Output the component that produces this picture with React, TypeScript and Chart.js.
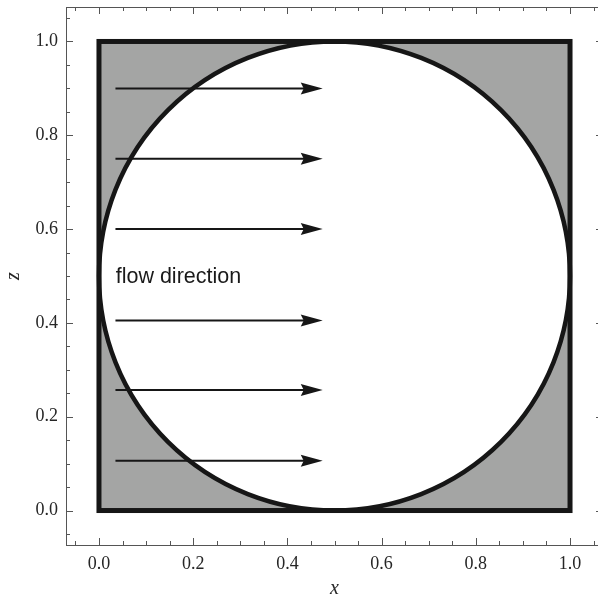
import { useEffect, useRef } from "react";
import { Chart, registerables } from "chart.js";

Chart.register(...registerables);

// Axis ranges (data units)
const xRange = [-0.07, 1.07];
const yRange = [-0.0735, 1.0735];

// Tick values and labels
const majorTicks = [0, 0.2, 0.4, 0.6, 0.8, 1.0];
const majorTickLabels = ["0.0", "0.2", "0.4", "0.6", "0.8", "1.0"];
const minorTicks = [
  -0.05, 0.05, 0.1, 0.15, 0.25, 0.3, 0.35, 0.45, 0.5, 0.55, 0.65, 0.7, 0.75,
  0.85, 0.9, 0.95, 1.05,
];

// Geometry (data units)
const squareX = [0, 1];
const squareY = [0, 1];
const circleCenter = [0.5, 0.5];
const circleRadius = [0.5];

// Flow arrows
const arrowY = [0.9, 0.75, 0.6, 0.405, 0.257, 0.106];
const arrowStartX = [0.035];
const arrowShaftEndX = [0.44];
const arrowTipX = [0.475];

// Annotation
const annotationText = ["flow direction"];
const annotationPos = [0.0355, 0.486];

const DARK = "#161616";

const shapesPlugin = {
  id: "shapes",
  beforeDatasetsDraw(chart: any) {
    const { ctx } = chart;
    const xs = chart.scales.x;
    const ys = chart.scales.y;
    const x0 = xs.getPixelForValue(squareX[0]);
    const x1 = xs.getPixelForValue(squareX[1]);
    const y0 = ys.getPixelForValue(squareY[0]);
    const y1 = ys.getPixelForValue(squareY[1]);
    ctx.save();
    ctx.fillStyle = "#a4a5a4";
    ctx.fillRect(x0, y1, x1 - x0, y0 - y1);

    const cx = xs.getPixelForValue(circleCenter[0]);
    const cy = ys.getPixelForValue(circleCenter[1]);
    const rx = Math.abs(xs.getPixelForValue(circleCenter[0] + circleRadius[0]) - cx);
    const ry = Math.abs(ys.getPixelForValue(circleCenter[1] + circleRadius[0]) - cy);
    ctx.beginPath();
    ctx.ellipse(cx, cy, rx, ry, 0, 0, Math.PI * 2);
    ctx.fillStyle = "#ffffff";
    ctx.fill();
    ctx.lineWidth = 4.5;
    ctx.strokeStyle = DARK;
    ctx.stroke();

    ctx.lineWidth = 5;
    ctx.strokeStyle = DARK;
    ctx.lineJoin = "miter";
    ctx.strokeRect(x0, y1, x1 - x0, y0 - y1);

    ctx.font = '21.5px "Liberation Sans", Arial, sans-serif';
    ctx.fillStyle = "#1a1a1a";
    ctx.textBaseline = "alphabetic";
    ctx.textAlign = "left";
    ctx.fillText(
      annotationText[0],
      xs.getPixelForValue(annotationPos[0]),
      ys.getPixelForValue(annotationPos[1])
    );
    ctx.restore();
  },
  afterDatasetsDraw(chart: any) {
    const { ctx } = chart;
    const xs = chart.scales.x;
    const ys = chart.scales.y;
    ctx.save();
    ctx.fillStyle = DARK;
    arrowY.forEach((v) => {
      const tip = xs.getPixelForValue(arrowTipX[0]);
      const py = ys.getPixelForValue(v);
      ctx.beginPath();
      ctx.moveTo(tip, py);
      ctx.lineTo(tip - 22, py - 6);
      ctx.lineTo(tip - 19, py);
      ctx.lineTo(tip - 22, py + 6);
      ctx.closePath();
      ctx.fill();
    });
    ctx.restore();
  },
  afterDraw(chart: any) {
    const { ctx, chartArea } = chart;
    const xs = chart.scales.x;
    const ys = chart.scales.y;
    const { left, right, top, bottom } = chartArea;
    ctx.save();
    ctx.strokeStyle = "#555555";
    ctx.lineWidth = 1;
    ctx.beginPath();
    ctx.moveTo(left + 0.5, top);
    ctx.lineTo(left + 0.5, bottom);
    ctx.moveTo(left, top + 0.5);
    ctx.lineTo(right, top + 0.5);
    ctx.moveTo(left, bottom + 0.5);
    ctx.lineTo(right, bottom + 0.5);
    ctx.moveTo(right - 0.5, top);
    ctx.lineTo(right - 0.5, bottom);
    const tick = (v: number, len: number) => {
      const px = Math.round(xs.getPixelForValue(v)) + 0.5;
      ctx.moveTo(px, bottom);
      ctx.lineTo(px, bottom - len);
      ctx.moveTo(px, top);
      ctx.lineTo(px, top + len);
      const py = Math.round(ys.getPixelForValue(v)) + 0.5;
      ctx.moveTo(left, py);
      ctx.lineTo(left + len, py);
      ctx.moveTo(right, py);
      ctx.lineTo(right - len, py);
    };
    majorTicks.forEach((v) => tick(v, 7));
    minorTicks.forEach((v) => tick(v, 4));
    ctx.stroke();
    ctx.restore();
  },
};

const labelFor = (value: number) => {
  const i = majorTicks.findIndex((t) => Math.abs(t - value) < 1e-9);
  return i >= 0 ? majorTickLabels[i] : "";
};

export default function App() {
  const ref = useRef<HTMLCanvasElement | null>(null);
  useEffect(() => {
    if (!ref.current) return;
    const serif = '"Liberation Serif", "Times New Roman", serif';
    const tickFont = { family: serif, size: 18 };
    const titleFont = { family: serif, size: 20, style: "italic" as const };
    const chart = new Chart(ref.current, {
      type: "scatter",
      data: {
        datasets: arrowY.map((v) => ({
          data: [
            { x: arrowStartX[0], y: v },
            { x: arrowShaftEndX[0], y: v },
          ],
          showLine: true,
          borderColor: DARK,
          borderWidth: 2,
          pointRadius: 0,
          borderCapStyle: "butt" as const,
        })),
      },
      options: {
        responsive: false,
        animation: false,
        layout: { padding: { top: 7, right: 3, left: 0, bottom: 0 } },
        plugins: { legend: { display: false }, tooltip: { enabled: false } },
        scales: {
          x: {
            type: "linear",
            min: xRange[0],
            max: xRange[1],
            afterBuildTicks: (s: any) => {
              s.ticks = majorTicks.map((v) => ({ value: v }));
            },
            afterFit: (s: any) => {
              s.height = 56;
              s.paddingLeft = 0;
              s.paddingRight = 0;
            },
            grid: { display: false, drawTicks: false },
            border: { display: false },
            ticks: {
              autoSkip: false,
              maxRotation: 0,
              padding: 8,
              color: "#262626",
              font: tickFont,
              callback: (v: any) => labelFor(Number(v)),
            },
            title: {
              display: true,
              text: "x",
              color: "#262626",
              font: titleFont,
              padding: { top: -4, bottom: 0 },
            },
          },
          y: {
            type: "linear",
            min: yRange[0],
            max: yRange[1],
            afterBuildTicks: (s: any) => {
              s.ticks = majorTicks.map((v) => ({ value: v }));
            },
            afterFit: (s: any) => {
              s.width = 66;
              s.paddingTop = 0;
              s.paddingBottom = 0;
            },
            grid: { display: false, drawTicks: false },
            border: { display: false },
            ticks: {
              autoSkip: false,
              padding: 8,
              color: "#262626",
              font: tickFont,
              callback: (v: any) => labelFor(Number(v)),
            },
            title: {
              display: true,
              text: "z",
              color: "#262626",
              font: titleFont,
              padding: { top: 2, bottom: 0 },
            },
          },
        },
      },
      plugins: [shapesPlugin],
    });
    return () => chart.destroy();
  }, []);
  return (
    <div
      style={{
        position: "absolute",
        left: 0,
        top: 0,
        width: 598,
        height: 601,
        overflow: "hidden",
        background: "#ffffff",
      }}
    >
      <canvas ref={ref} width={606} height={601} style={{ display: "block" }} />
    </div>
  );
}
